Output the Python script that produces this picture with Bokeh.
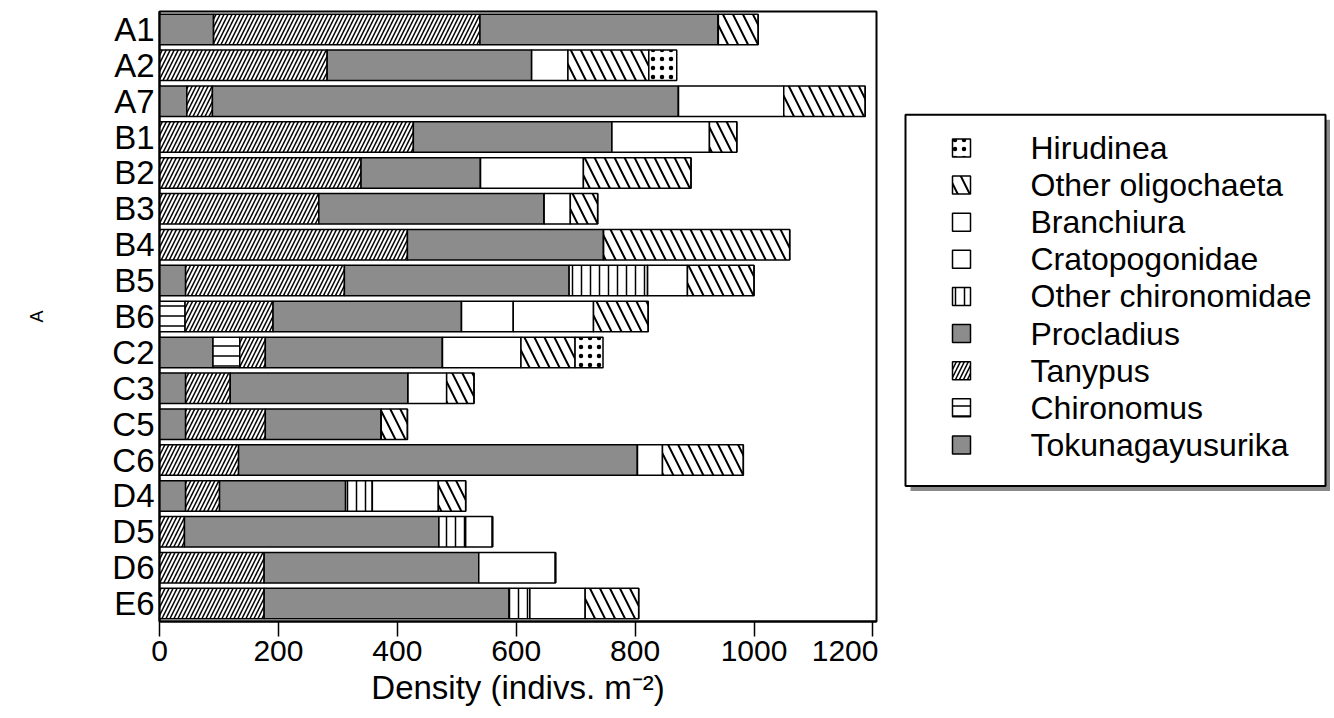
from bokeh.plotting import figure
from bokeh.layouts import row
from bokeh.models import ColumnDataSource, FactorRange, Range1d
from bokeh.core.properties import value
from bokeh.embed import file_html
from bokeh.resources import INLINE

# ---------------- data ----------------
sites = ["A1", "A2", "A7", "B1", "B2", "B3", "B4", "B5", "B6",
         "C2", "C3", "C5", "C6", "D4", "D5", "D6", "E6"]

tokunagayusurika   = [91, 0, 46, 0, 0, 0, 0, 44, 0, 90, 44, 44, 0, 44, 0, 0, 0]
chironomus         = [0, 0, 0, 0, 0, 0, 0, 0, 43, 45, 0, 0, 0, 0, 0, 0, 0]
tanypus            = [448, 282, 43, 427, 339, 268, 417, 267, 148, 43, 75, 134, 133, 57, 42, 176, 176]
procladius         = [401, 344, 784, 334, 201, 379, 330, 378, 317, 298, 299, 195, 671, 212, 428, 361, 412]
other_chironomidae = [0, 0, 0, 0, 0, 0, 0, 132, 0, 0, 0, 0, 0, 45, 45, 0, 35]
cratopogonidae     = [0, 0, 0, 0, 0, 0, 0, 0, 87, 0, 0, 0, 0, 0, 45, 129, 0]
branchiura         = [0, 61, 177, 164, 173, 44, 0, 67, 135, 132, 65, 0, 42, 111, 0, 0, 93]
other_oligochaeta  = [67, 136, 137, 46, 181, 46, 313, 112, 92, 91, 46, 44, 136, 46, 0, 0, 90]
hirudinea          = [0, 47, 0, 0, 0, 0, 0, 0, 0, 47, 0, 0, 0, 0, 0, 0, 0]

series_keys = ["toku", "chir", "tany", "procl", "ochir", "crato", "branch", "oligo", "hir"]
series_labels = ["Tokunagayusurika", "Chironomus", "Tanypus", "Procladius",
                 "Other chironomidae", "Cratopogonidae", "Branchiura",
                 "Other oligochaeta", "Hirudinea"]
x_ticks = [0, 200, 400, 600, 800, 1000, 1200]

src = ColumnDataSource(dict(
    site=sites, toku=tokunagayusurika, chir=chironomus, tany=tanypus,
    procl=procladius, ochir=other_chironomidae, crato=cratopogonidae,
    branch=branchiura, oligo=other_oligochaeta, hir=hirudinea))

GRAY = "#8c8c8c"
FONT = "Liberation Sans"

fills    = [GRAY, "white", "white", GRAY, "white", "white", "white", "white", "white"]
patterns = [" ", "horizontal_line", "right_diagonal_line", " ", "vertical_line",
            " ", " ", "left_diagonal_line", "dot"]
scales   = [10, 10, 8, 10, 9, 10, 10, 20, 9]
weights  = [1, 1.5, 1.5, 1, 1.5, 1, 1, 2, 3]

# ---------------- main chart ----------------
p = figure(width=878, height=708,
           y_range=FactorRange(factors=list(reversed(sites))),
           x_range=Range1d(0, 1206),
           output_backend="svg", toolbar_location=None,
           min_border_left=159, min_border_right=2,
           min_border_top=11, min_border_bottom=0)

renderers = p.hbar_stack(series_keys, y="site", height=0.85, source=src,
                         fill_color=fills, hatch_pattern=patterns,
                         hatch_scale=scales, hatch_weight=weights,
                         hatch_color="black", line_color="black", line_width=1.5)

p.xgrid.visible = False
p.ygrid.visible = False
p.outline_line_color = "black"
p.outline_line_width = 2

xa = p.xaxis[0]
xa.ticker = x_ticks
xa.major_tick_out = 15
xa.major_tick_in = 0
xa.minor_tick_out = 0
xa.minor_tick_in = 0
xa.axis_line_width = 2
xa.major_tick_line_width = 1.5
xa.major_label_text_font = FONT
xa.major_label_text_font_size = "30px"
xa.major_label_text_color = "black"
xa.major_label_standoff = 4
xa.axis_label = "Density (indivs. m⁻²)"
xa.axis_label_text_font = FONT
xa.axis_label_text_font_size = "33px"
xa.axis_label_text_font_style = "normal"
xa.axis_label_text_color = "black"
xa.axis_label_standoff = 5

ya = p.yaxis[0]
ya.major_tick_out = 0
ya.major_tick_in = 0
ya.minor_tick_out = 0
ya.axis_line_width = 2
ya.major_label_text_font = FONT
ya.major_label_text_font_size = "33px"
ya.major_label_text_color = "black"
ya.major_label_standoff = 5
ya.axis_label = "A"
ya.axis_label_text_font = FONT
ya.axis_label_text_font_size = "18px"
ya.axis_label_text_font_style = "normal"
ya.axis_label_text_color = "black"
ya.axis_label_standoff = 62

# ---------------- legend panel (its frame is aligned with the chart frame) ----------------
FRAME_TOP, FRAME_BOTTOM = 12, 620
LEG_X0, LEG_X1 = 878, 1330
leg = figure(width=LEG_X1 - LEG_X0, height=708,
             x_range=Range1d(LEG_X0, LEG_X1), y_range=Range1d(FRAME_BOTTOM, FRAME_TOP),
             output_backend="svg", toolbar_location=None,
             x_axis_location=None, y_axis_location=None,
             min_border=0, outline_line_color=None)
leg.xgrid.visible = False
leg.ygrid.visible = False

# shadow and box
leg.quad(left=[910], right=[1330], top=[120], bottom=[490],
         fill_color="#8a8a8a", line_color=None)
leg.quad(left=[905], right=[1325], top=[115], bottom=[485],
         fill_color="white", line_color="black", line_width=2)

order = list(range(len(series_labels)))[::-1]
row_y = [148 + 37 * k for k in range(len(order))]
leg_src = ColumnDataSource(dict(
    y=row_y,
    label=[series_labels[i] for i in order],
    fill=[fills[i] for i in order],
    pattern=[patterns[i] for i in order],
    scale=[scales[i] if patterns[i] != "left_diagonal_line" else 24 for i in order],
    weight=[weights[i] for i in order],
))
leg.rect(x=961, y="y", width=18, height=18, source=leg_src,
         fill_color="fill", hatch_pattern="pattern", hatch_scale="scale",
         hatch_weight="weight", hatch_color="black",
         line_color="black", line_width=1.5)
leg.text(x=1030, y="y", text="label", source=leg_src,
         text_font=value(FONT), text_font_size="32px", text_color="black",
         text_align="left", text_baseline="middle")

open("out.html", "w").write(file_html(row(p, leg), INLINE))
